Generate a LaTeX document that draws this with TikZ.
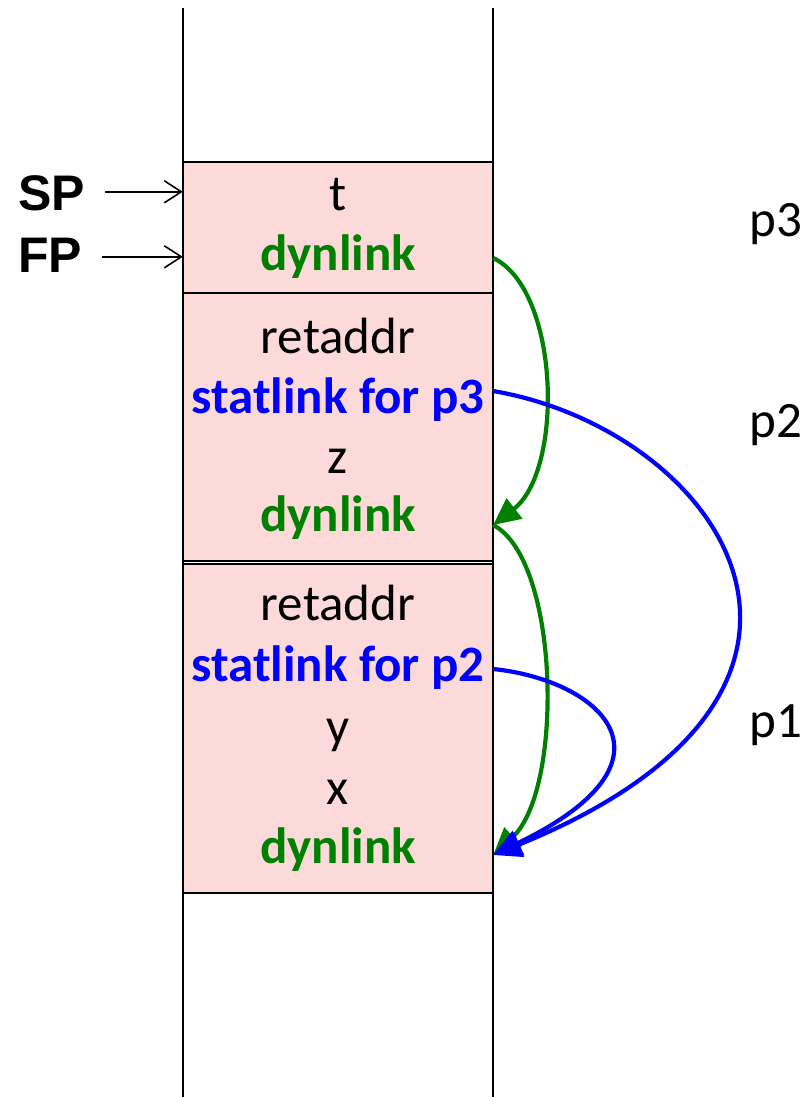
\documentclass[tikz,border=0pt]{standalone}
\usepackage{fontspec}
\setmainfont{Carlito}
\newfontfamily\labelfont{Liberation Sans}
\usetikzlibrary{arrows.meta}
\definecolor{framefill}{RGB}{253,218,218}
\definecolor{linkgreen}{RGB}{0,128,0}
\definecolor{linkblue}{RGB}{0,0,255}
\tikzset{
  slot/.style={minimum width=310pt, text height=37pt, text depth=12pt, inner sep=0pt,
               font=\fontsize{51}{60}\selectfont},
  dynslot/.style={slot, text=linkgreen, font=\fontsize{51}{60}\selectfont\bfseries},
  statslot/.style={slot, text=linkblue, font=\fontsize{51}{60}\selectfont\bfseries},
  framebox/.style={draw, line width=2pt, fill=framefill},
  stackwall/.style={line width=2.2pt},
  reglabel/.style={inner sep=0pt, anchor=base west, font=\labelfont\bfseries\fontsize{50}{60}\selectfont},
  proclabel/.style={inner sep=0pt, font=\fontsize{51}{60}\selectfont},
  regptr/.style={line width=1.6pt, -{Straight Barb[length=17pt,width=22pt,line width=1.6pt]}},
  dynarrow/.style={draw=linkgreen, line width=4.2pt, -{Triangle[length=27pt,width=25pt]}},
  statarrow/.style={draw=linkblue, line width=4.2pt, -{Triangle[length=28pt,width=26pt]}},
}
\begin{document}
\begin{tikzpicture}[x=1pt,y=-1pt]
\useasboundingbox (0,0) rectangle (807,1097);

% activation records
\draw[framebox] (183,162) rectangle (493,293);
\draw[framebox] (183,293) rectangle (493,561);
\draw[framebox] (183,564) rectangle (493,893);

% stack walls
\draw[stackwall] (183,8) -- (183,1097);
\draw[stackwall] (493,8) -- (493,1097);

% frame of p3
\node[slot]     (t)   at (338,198) {t};
\node[dynslot]  (dl1) at (338,258) {dynlink};
% frame of p2
\node[slot]     (ra2) at (338,341) {retaddr};
\node[statslot] (sl3) at (338,401) {statlink for p3};
\node[slot]     (z)   at (338,461) {z};
\node[dynslot]  (dl2) at (338,519) {dynlink};
% frame of p1
\node[slot]     (ra1) at (338,608) {retaddr};
\node[statslot] (sl2) at (338,669) {statlink for p2};
\node[slot]     (y)   at (338,731) {y};
\node[slot]     (x)   at (338,792) {x};
\node[dynslot]  (dl3) at (338,851) {dynlink};

% procedure names
\node[proclabel] (p3) at (776,224) {p3};
\node[proclabel] (p2) at (776,425) {p2};
\node[proclabel] (p1) at (776,725) {p1};

% stack and frame pointers
\node[reglabel] (sp) at (18,210) {SP};
\node[reglabel] (fp) at (18,272) {FP};
\draw[regptr] ([xshift=20pt,yshift=1pt]sp.east) -- ([yshift=1pt]sp.east -| t.west);
\draw[regptr] ([xshift=20pt,yshift=-2pt]fp.east) -- ([yshift=-2pt]fp.east -| t.west);

% dynamic links
\draw[dynarrow] (dl1.east) .. controls (560,290) and (564,470) .. ([yshift=-6pt]dl2.east);
\draw[dynarrow] ([yshift=-6pt]dl2.east) .. controls (560,560) and (564,790) .. ([yshift=-4pt]dl3.east);

% static links
\draw[statarrow] ([yshift=10pt]sl3.east) .. controls (720,430) and (900,690) .. ([yshift=-4pt]dl3.east);
\draw[statarrow] (sl2.east) .. controls (600,680) and (690,760) .. ([yshift=-4pt]dl3.east);
\end{tikzpicture}
\end{document}
